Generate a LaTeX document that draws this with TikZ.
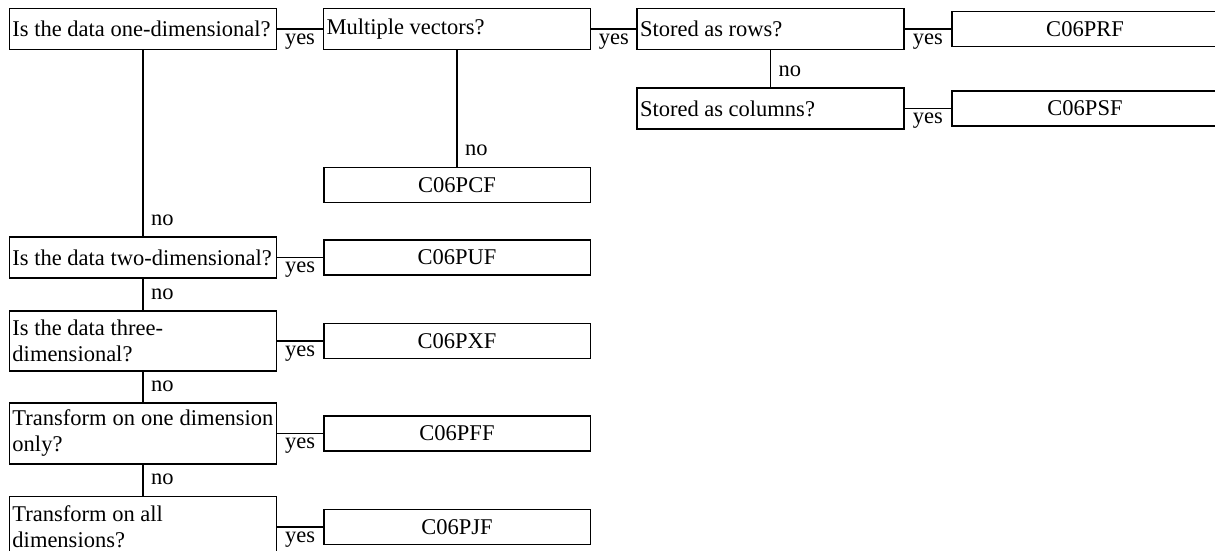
\documentclass[tikz,border=0pt]{standalone}
\usepackage{fontspec}
\setmainfont{Liberation Serif}
\usepackage{tikz}
\tikzset{
  question/.style={draw,line width=1.5pt,align=justify,text width=261pt,
    inner xsep=3pt,inner ysep=4pt,minimum height=41pt},
  routine/.style={draw,line width=1.5pt,minimum width=266.5pt,minimum height=35pt,inner sep=0pt},
  yeslabel/.style={midway,below=0.5pt},
  nolabel/.style={pos=1,anchor=base west,xshift=4pt,yshift=11pt}
}

\begin{document}
\begin{tikzpicture}[x=1pt,y=-1pt,line width=1.5pt,font=\fontsize{22.5}{26}\selectfont]
      \useasboundingbox (0,0) rectangle (1215,551);

      % questions
      \node[question](q1) at (143, 29) {Is the data one-dimensional?};
      \node[question](q2) at (143, 257.5) {Is the data two-dimensional?};
      \node[question,minimum height=60pt](q3) at (143, 341) {Is the data three-\\dimensional?};
      \node[question,minimum height=61pt](q4) at (143, 433.5) {Transform on one dimension\linebreak only?};
      \node[question,minimum height=61pt](q5) at (143, 527) {Transform on all\\dimensions?};
      \node[question](m1) at (457, 29) {Multiple vectors?};
      \node[question](rows) at (770.5, 29) {Stored as rows?};
      \node[question](cols) at (770.5, 108.5) {Stored as columns?};

      % routines
      \node[routine](pcf) at (457, 185) {C06PCF};
      \node[routine](prf) at (1085, 29) {C06PRF};
      \node[routine](psf) at (1085, 108.5) {C06PSF};
      \node[routine](puf) at (457, 257.5) {C06PUF};
      \node[routine](pxf) at (457, 341) {C06PXF};
      \node[routine](pff) at (457, 433.5) {C06PFF};
      \node[routine](pjf) at (457, 527) {C06PJF};

      \foreach \a/\b in {q1/m1, m1/rows, rows/prf, cols/psf, q2/puf, q3/pxf, q4/pff, q5/pjf} {
        \draw (\a) -- node[yeslabel]{yes} (\b);
      }

      \foreach \a/\b in {q1/q2, q2/q3, q3/q4, q4/q5, m1/pcf, rows/cols} {
        \draw (\a) -- node[nolabel]{no} (\b);
      }
    \end{tikzpicture}
\end{document}
